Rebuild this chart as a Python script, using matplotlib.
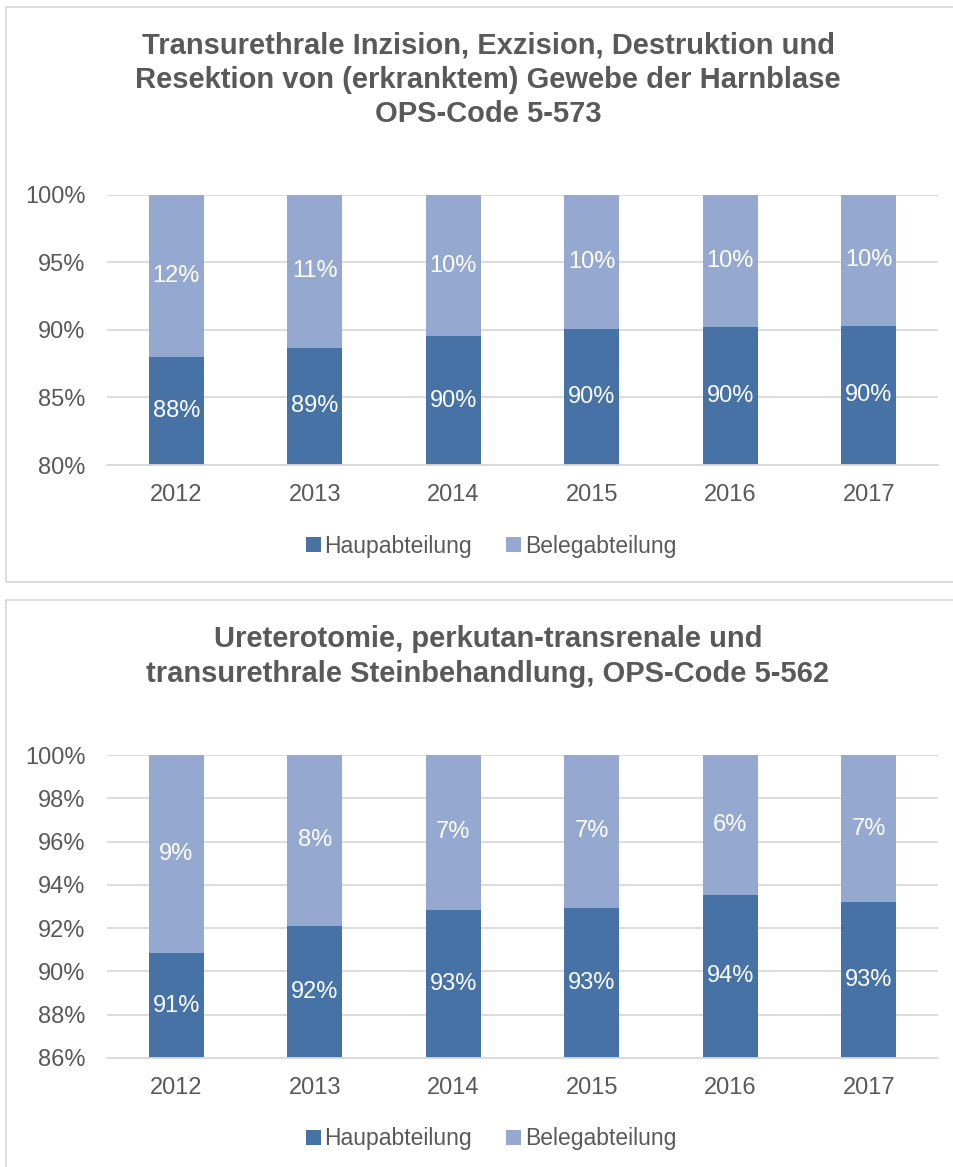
import matplotlib
matplotlib.use('Agg')
import matplotlib.pyplot as plt
from matplotlib.patches import Rectangle
import numpy as np

plt.rcParams['font.family'] = ['Liberation Sans', 'DejaVu Sans']

# data
years = ['2012', '2013', '2014', '2015', '2016', '2017']

haupt_573 = [88.0, 88.7, 89.55, 90.1, 90.25, 90.3]
beleg_573 = [12.0, 11.3, 10.45, 9.9, 9.75, 9.7]

haupt_562 = [90.85, 92.1, 92.85, 92.95, 93.55, 93.2]
beleg_562 = [9.15, 7.9, 7.15, 7.05, 6.45, 6.8]

title_573 = ['Transurethrale Inzision, Exzision, Destruktion und',
             'Resektion von (erkranktem) Gewebe der Harnblase',
             'OPS-Code 5-573']
title_562 = ['Ureterotomie, perkutan-transrenale und',
             'transurethrale Steinbehandlung, OPS-Code 5-562']

legend_names = ['Haupabteilung', 'Belegabteilung']

c_haupt = '#4672A6'
c_beleg = '#95A9D0'
txt = '#595959'
grid_c = '#D9D9D9'

W, H = 954, 1167
fig = plt.figure(figsize=(W / 100, H / 100), dpi=100)


def fy(py):
    return 1 - py / H


def make_chart(box_top, box_bot, title_lines, title_base, title_step,
               ax_top, ax_bot, ymin, ystep, haupt, beleg, legend_y):
    # frame around the chart
    fig.patches.append(Rectangle((6 / W, fy(box_bot)), 1.2, (box_bot - box_top) / H,
                                 transform=fig.transFigure, fill=False,
                                 edgecolor=grid_c, linewidth=1.3))
    for i, line in enumerate(title_lines):
        fig.text(488 / W, fy(title_base + i * title_step), line, ha='center',
                 va='baseline', fontsize=21, fontweight='bold', color=txt)

    ax = fig.add_axes([107 / W, fy(ax_bot), (938 - 107) / W, (ax_bot - ax_top) / H])
    x = np.arange(len(years))
    h = np.array(haupt)
    b1 = ax.bar(x, h - ymin, bottom=ymin, width=0.4, color=c_haupt,
                label=legend_names[0], zorder=2)
    b2 = ax.bar(x, beleg, bottom=h, width=0.4, color=c_beleg,
                label=legend_names[1], zorder=2)
    ax.bar_label(b1, labels=[f'{v:.0f}%' for v in haupt], label_type='center',
                 color='white', fontsize=17)
    ax.bar_label(b2, labels=[f'{v:.0f}%' for v in beleg], label_type='center',
                 color='white', fontsize=17)

    ax.set_xlim(-0.5, len(years) - 0.5)
    ax.set_ylim(ymin, 100)
    ax.set_yticks(np.arange(ymin, 100.1, ystep))
    ax.set_yticklabels([f'{v:.0f}%' for v in np.arange(ymin, 100.1, ystep)])
    ax.set_xticks(x)
    ax.set_xticklabels(years)
    ax.tick_params(axis='both', length=0, labelsize=17, labelcolor=txt)
    ax.tick_params(axis='y', pad=15.5)
    ax.tick_params(axis='x', pad=14)
    ax.grid(axis='y', color=grid_c, linewidth=1.3, zorder=0)
    for s in ['top', 'right', 'left']:
        ax.spines[s].set_visible(False)
    ax.spines['bottom'].set_color(grid_c)
    ax.spines['bottom'].set_linewidth(1.3)
    ax.set_facecolor('none')

    fig.legend(handles=[b1, b2], labels=legend_names, loc='center',
               bbox_to_anchor=(491 / W, fy(legend_y)), ncol=2, frameon=False,
               fontsize=16.5, labelcolor=txt, handlelength=0.65, handleheight=0.65,
               handletextpad=0.15, columnspacing=1.5)
    return ax


make_chart(7, 582, title_573, 53, 34.5, 195, 465, 80, 5,
           haupt_573, beleg_573, 546)
make_chart(600, 1190, title_562, 647, 34.5, 755, 1058, 86, 2,
           haupt_562, beleg_562, 1139)

fig.savefig('out.png', dpi=100)
